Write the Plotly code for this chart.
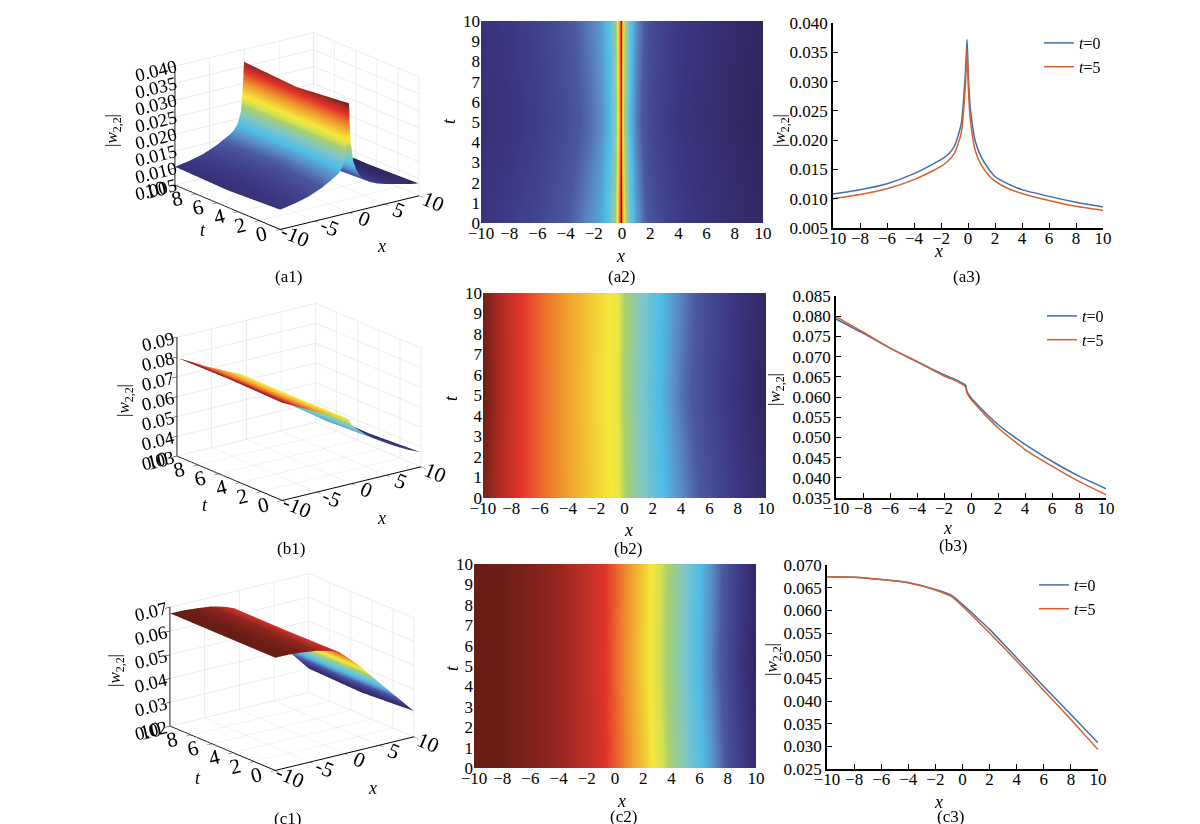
import plotly.graph_objects as go

FONT = "Liberation Serif"
W, H = 1200, 824

# ---------------- data ----------------
t_vals = [0, 5, 10]

a_x = [-10, -8, -6, -4, -2, -1.5, -1, -0.5, -0.2, -0.07, 0.02, 0.17, 0.54, 1, 1.5, 2, 3, 4, 6, 8, 10]
a_t0 = [0.0108, 0.01155, 0.01257, 0.01428, 0.01667, 0.0175, 0.0190, 0.0228, 0.0312, 0.0372, 0.0312,
        0.0255, 0.0198, 0.0170, 0.0152, 0.0138, 0.0125, 0.01155, 0.0104, 0.0094, 0.0086]
a_t5 = [0.0100, 0.0107, 0.0117, 0.01325, 0.01553, 0.0164, 0.0178, 0.0212, 0.0290, 0.0355, 0.0290,
        0.0236, 0.0182, 0.0157, 0.0141, 0.0130, 0.0117, 0.0109, 0.0097, 0.0087, 0.0080]
a_t10 = [0.0104, 0.0111, 0.0121, 0.0138, 0.0161, 0.0170, 0.0184, 0.0220, 0.0301, 0.0364, 0.0301,
         0.0246, 0.0190, 0.0164, 0.0147, 0.0134, 0.0121, 0.0112, 0.0100, 0.0090, 0.0083]

b_x = [-10, -8, -6, -4, -2, -1, -0.4, -0.3, 0, 0.5, 1, 2, 3, 4, 6, 8, 10]
b_t0 = [0.0793, 0.0758, 0.0721, 0.0688, 0.0655, 0.0641, 0.0629, 0.0614, 0.0598, 0.0580, 0.0563,
        0.0532, 0.0506, 0.0483, 0.0441, 0.0404, 0.0373]
b_t5 = [0.0799, 0.0761, 0.0721, 0.0687, 0.0652, 0.0638, 0.0625, 0.0610, 0.0594, 0.0575, 0.0557,
        0.0524, 0.0496, 0.0470, 0.0429, 0.0391, 0.0358]
b_t10 = [0.0796, 0.0760, 0.0721, 0.0688, 0.0654, 0.0640, 0.0627, 0.0612, 0.0596, 0.0578, 0.0560,
         0.0528, 0.0501, 0.0477, 0.0435, 0.0397, 0.0365]

c_x = [-10, -8, -6, -4, -2, -0.8, 0, 1, 2, 4, 6, 8, 10]
c_t0 = [0.0674, 0.0673, 0.0668, 0.0661, 0.0646, 0.0633, 0.0613, 0.0586, 0.0558, 0.0495, 0.0432, 0.0370, 0.0308]
c_t5 = [0.0674, 0.0673, 0.0668, 0.0661, 0.0645, 0.0630, 0.0609, 0.0580, 0.0550, 0.0488, 0.0423, 0.0359, 0.0293]
c_t10 = [0.0674, 0.0673, 0.0668, 0.0661, 0.0645, 0.0631, 0.0611, 0.0583, 0.0554, 0.0491, 0.0427, 0.0364, 0.0300]

# axis settings per row
z3d_range = {"a": [0.005, 0.040], "b": [0.03, 0.09], "c": [0.02, 0.07]}
z3d_dtick = {"a": 0.005, "b": 0.01, "c": 0.01}
z3d_fmt = {"a": ".3f", "b": ".2f", "c": ".2f"}
line_range = {"a": [0.005, 0.040], "b": [0.035, 0.085], "c": [0.025, 0.070]}
line_dtick = 0.005

legend_names = ["<i>t</i>=0", "<i>t</i>=5"]
x_ticks_heat = list(range(-10, 11, 2))
t_ticks_heat = list(range(0, 11, 1))
x_ticks_3d = [-10, -5, 0, 5, 10]
x_text_3d = ["-10", "-5", "0", "5", "10"]
t_ticks_3d = [0, 2, 4, 6, 8, 10]

CS = [[0.0, "#30265e"], [0.1, "#3b3582"], [0.22, "#4a58a0"], [0.28, "#5a8ac4"],
      [0.35, "#4fbde8"], [0.44, "#7cc6c8"], [0.54, "#a6d070"], [0.58, "#d4e050"],
      [0.64, "#f4e83a"], [0.70, "#f2c032"], [0.76, "#ef9a2e"], [0.82, "#ea6a2c"],
      [0.88, "#e4352a"], [0.95, "#a82b23"], [1.0, "#6a1d15"]]
BLUE = "#3f6fad"
ORANGE = "#d9602b"

rows = {
    "a": (a_x, a_t0, a_t5, a_t10),
    "b": (b_x, b_t0, b_t5, b_t10),
    "c": (c_x, c_t0, c_t5, c_t10),
}

# pixel boxes (left, right, top, bottom)
scene_px = {"a": (114, 464, 2, 244), "b": (116, 466, 273, 515), "c": (109, 459, 543, 785)}
heat_px = {"a": (473, 755, 13, 215), "b": (475, 758, 285, 490), "c": (466, 748, 556, 760)}
line_px = {"a": (825, 1095, 15, 220), "b": (828, 1098, 288, 490), "c": (819, 1090, 557, 761)}
label_px = {
    "a": [(280, 268), (613, 268), (958, 268)],
    "b": [(283, 540), (620, 540), (945, 537)],
    "c": [(279, 810), (615, 808), (942, 808)],
}
# axis-title positions: 3D t, 3D x, 3D |w|, heat x, heat t, line x, line |w|
title_px = {
    "a": [(195, 222), (373, 238), (105, 123), (612, 248), (441, 113), (930, 243), (773, 123)],
    "b": [(197, 497), (373, 510), (117, 393), (620, 522), (443, 390), (939, 520), (768, 382)],
    "c": [(190, 770), (365, 780), (108, 663), (613, 793), (444, 660), (930, 794), (765, 652)],
}


def fx(p):
    return min(1.0, max(0.0, p / W))


def fy(p):
    return min(1.0, max(0.0, 1 - p / H))


tickfont = dict(family=FONT, size=17, color="black")
W_TITLE = "|<i>w</i><sub>2,2</sub>|"

fig = go.Figure()
annotations = []
layout = dict(
    width=W, height=H, margin=dict(l=0, r=0, t=0, b=0, autoexpand=False),
    paper_bgcolor="white", plot_bgcolor="white",
    font=dict(family=FONT, size=17, color="black"),
)

eye_dir = (-0.555, -0.732, 0.31)
k = 3.0
box_scale = 1.44


def ax3(rng, tickvals, ticktext, fmt=None, dtick=None, fsize=16):
    d = dict(range=rng, title=dict(text=""),
             showbackground=False, gridcolor="#dcdcdc", gridwidth=1,
             showline=True, linecolor="black", linewidth=2,
             ticks="outside", tickcolor="black", ticklen=6,
             tickfont=dict(family=FONT, size=fsize, color="black"),
             zeroline=False, showspikes=False)
    if tickvals is not None:
        d["tickvals"] = tickvals
        if ticktext is not None:
            d["ticktext"] = ticktext
    if dtick is not None:
        d["dtick"] = dtick
        d["tickformat"] = fmt
    return d


def add_ann(text, px, py, size=17, angle=0):
    annotations.append(dict(text=text, x=fx(px), y=fy(py), xref="paper", yref="paper",
                            xanchor="center", yanchor="middle",
                            showarrow=False, textangle=angle,
                            font=dict(family=FONT, size=size, color="black")))


for i, key in enumerate(["a", "b", "c"]):
    xs, t0, t5, t10 = rows[key]
    n = i + 1
    sname = "scene" if n == 1 else f"scene{n}"
    # ---- 3D surface ----
    fig.add_trace(go.Surface(
        x=xs, y=t_vals, z=[t0, t5, t10], colorscale=CS, showscale=False,
        lighting=dict(ambient=1.0, diffuse=0.0, specular=0.0, roughness=1.0, fresnel=0.0),
        hoverinfo="skip", scene=sname))
    l, r, tp, bt = scene_px[key]
    layout[sname] = dict(
        domain=dict(x=[fx(l), fx(r)], y=[fy(bt), fy(tp)]),
        xaxis=ax3([-10, 10], x_ticks_3d, x_text_3d),
        yaxis=ax3([0, 10], t_ticks_3d, None),
        zaxis=ax3(z3d_range[key], None, None, fmt=z3d_fmt[key], dtick=z3d_dtick[key], fsize=15),
        aspectmode="manual",
        aspectratio=dict(x=1.0 * box_scale, y=1.0 * box_scale, z=0.72 * box_scale),
        camera=dict(eye=dict(x=eye_dir[0] * k, y=eye_dir[1] * k, z=eye_dir[2] * k),
                    center=dict(x=0, y=0, z=0), up=dict(x=0, y=0, z=1),
                    projection=dict(type="orthographic")),
        bgcolor="rgba(0,0,0,0)",
    )

    # ---- heatmap ----
    hx = f"x{n}" if n > 1 else "x"
    hy = f"y{n}" if n > 1 else "y"
    fig.add_trace(go.Heatmap(
        x=xs, y=t_vals, z=[t0, t5, t10], colorscale=CS, showscale=False,
        zsmooth="best", hoverinfo="skip", xaxis=hx, yaxis=hy))
    l, r, tp, bt = heat_px[key]
    layout[f"xaxis{n}" if n > 1 else "xaxis"] = dict(
        domain=[fx(l), fx(r)], anchor=hy, range=[-10, 10], tickvals=x_ticks_heat,
        showline=False, ticks="", showgrid=False, zeroline=False, tickfont=tickfont,
        ticklabelstandoff=-2)
    layout[f"yaxis{n}" if n > 1 else "yaxis"] = dict(
        domain=[fy(bt), fy(tp)], anchor=hx, range=[0, 10], tickvals=t_ticks_heat,
        showline=False, ticks="", showgrid=False, zeroline=False, tickfont=tickfont)

    # ---- line plot ----
    m = n + 3
    lx, ly = f"x{m}", f"y{m}"
    leg = "legend" if n == 1 else f"legend{n}"
    fig.add_trace(go.Scatter(x=xs, y=t0, mode="lines",
                             line=dict(color=BLUE, width=1.5, shape="spline", smoothing=0.6),
                             name=legend_names[0], xaxis=lx, yaxis=ly, legend=leg))
    fig.add_trace(go.Scatter(x=xs, y=t5, mode="lines",
                             line=dict(color=ORANGE, width=1.5, shape="spline", smoothing=0.6),
                             name=legend_names[1], xaxis=lx, yaxis=ly, legend=leg))
    l, r, tp, bt = line_px[key]
    layout[f"xaxis{m}"] = dict(
        domain=[fx(l), fx(r)], anchor=ly, range=[-10, 10], dtick=2,
        showline=True, linecolor="black", linewidth=1.5, ticks="inside", ticklen=5,
        tickcolor="black", showgrid=False, zeroline=False, tickfont=tickfont,
        ticklabelstandoff=-6)
    layout[f"yaxis{m}"] = dict(
        domain=[fy(bt), fy(tp)], anchor=lx, range=line_range[key], dtick=line_dtick,
        tickformat=".3f", showline=True, linecolor="black", linewidth=1.5,
        ticks="inside", ticklen=5, tickcolor="black", showgrid=False, zeroline=False,
        tickfont=tickfont)
    layout[leg] = dict(
        x=fx(r + 3), y=fy(tp + 3), xanchor="right", yanchor="top",
        bgcolor="rgba(0,0,0,0)", borderwidth=0, itemwidth=30, tracegroupgap=0,
        font=dict(family=FONT, size=16, color="black"))

    # ---- titles & panel labels ----
    tp_ = title_px[key]
    add_ann("<i>t</i>", *tp_[0], size=18)
    add_ann("<i>x</i>", *tp_[1], size=18)
    add_ann(W_TITLE, *tp_[2], angle=-90)
    add_ann("<i>x</i>", *tp_[3], size=18)
    add_ann("<i>t</i>", *tp_[4], size=18, angle=-90)
    add_ann("<i>x</i>", *tp_[5], size=18)
    add_ann(W_TITLE, *tp_[6], angle=-90)
    for j, (px, py) in enumerate(label_px[key]):
        add_ann(f"({key}{j + 1})", px, py)

layout["annotations"] = annotations
fig.update_layout(**layout)
fig.write_html("out.html")
